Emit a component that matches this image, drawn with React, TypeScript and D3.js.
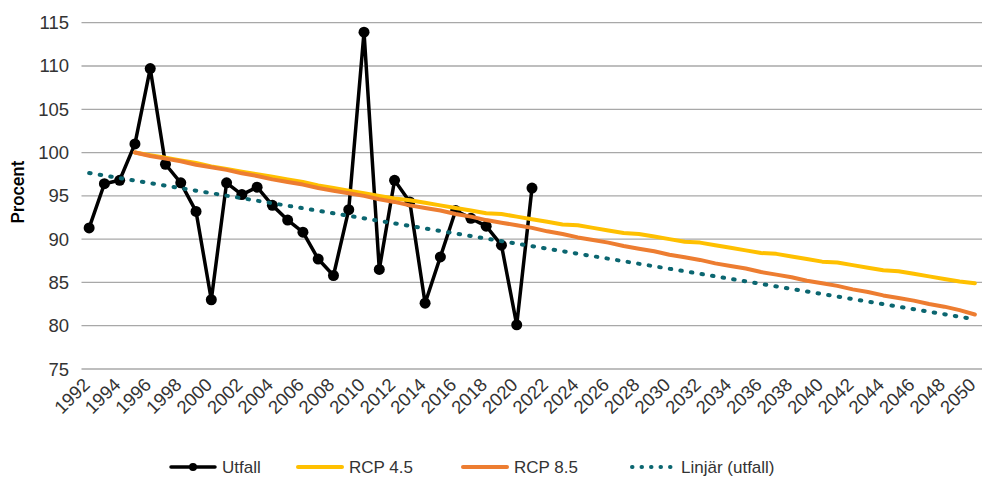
import React from "react";
import * as d3 from "d3";

const years: number[] = d3.range(1992, 2051);
const utfallYears: number[] = d3.range(1992, 2022);
const utfall: number[] = [
  91.3, 96.4, 96.8, 101.0, 109.7, 98.65, 96.5, 93.2, 83.0, 96.5,
  95.15, 96.0, 93.9, 92.2, 90.8, 87.7, 85.8, 93.4, 113.9, 86.5,
  96.8, 94.3, 82.6, 87.95, 93.3, 92.4, 91.5, 89.3, 80.1, 95.9,
];
const rcpYears: number[] = d3.range(1995, 2051);
const rcp45: number[] = [
  100.0, 99.7, 99.4, 99.1, 98.8, 98.4, 98.1, 97.8, 97.5, 97.2,
  96.9, 96.6, 96.2, 95.9, 95.6, 95.3, 95.0, 94.7, 94.5, 94.2,
  93.9, 93.6, 93.3, 93.0, 92.9, 92.6, 92.3, 92.0, 91.7, 91.6,
  91.3, 91.0, 90.7, 90.6, 90.3, 90.0, 89.7, 89.6, 89.3, 89.0,
  88.7, 88.4, 88.3, 88.0, 87.7, 87.4, 87.3, 87.0, 86.7, 86.4,
  86.3, 86.0, 85.7, 85.4, 85.1, 84.9,
];
const rcp85: number[] = [
  100.0, 99.6, 99.3, 99.0, 98.6, 98.3, 98.0, 97.6, 97.3, 96.9,
  96.6, 96.3, 95.9, 95.6, 95.3, 95.0, 94.6, 94.3, 93.9, 93.6,
  93.3, 92.9, 92.6, 92.2, 91.9, 91.6, 91.3, 90.9, 90.6, 90.2,
  89.9, 89.6, 89.2, 88.9, 88.6, 88.2, 87.9, 87.6, 87.2, 86.9,
  86.6, 86.2, 85.9, 85.6, 85.2, 84.9, 84.6, 84.2, 83.9, 83.5,
  83.2, 82.9, 82.5, 82.2, 81.8, 81.3,
];
const yTicks: number[] = [75, 80, 85, 90, 95, 100, 105, 110, 115];
const xTickLabels: number[] = d3.range(1992, 2051, 2);
const legendLabels: string[] = ["Utfall", "RCP 4.5", "RCP 8.5", "Linjär (utfall)"];

const COLORS = {
  utfall: "#000000",
  rcp45: "#FFC000",
  rcp85: "#ED7D31",
  trend: "#0B6670",
  grid: "#A8A8A8",
  text: "#333333",
};

const FONT = "'Liberation Sans', Arial, sans-serif";

export default function App() {
  const W = 982;
  const H = 481;
  const plotLeft = 81.5;
  const plotRight = 982.5;
  const x = d3.scaleBand<number>().domain(years).range([plotLeft, plotRight]);
  const cx = (yr: number) => (x(yr) as number) + x.bandwidth() / 2;
  const y = d3.scaleLinear().domain([75, 115]).range([369, 22.7]);

  // linear trend (least squares) of utfall
  const xs = utfallYears.map((d) => d - 1992);
  const mx = d3.mean(xs) as number;
  const my = d3.mean(utfall) as number;
  const sxy = d3.sum(xs, (v, i) => (v - mx) * (utfall[i] - my));
  const sxx = d3.sum(xs, (v) => (v - mx) * (v - mx));
  const slope = sxy / sxx;
  const intercept = my - slope * mx;
  const trendPts: [number, number][] = [
    [1992, intercept],
    [2050, intercept + slope * (2050 - 1992)],
  ];

  const line = d3
    .line<[number, number]>()
    .x((d) => cx(d[0]))
    .y((d) => y(d[1]));

  const utfallPts: [number, number][] = utfallYears.map((yr, i) => [yr, utfall[i]]);
  const r45Pts: [number, number][] = rcpYears.map((yr, i) => [yr, rcp45[i]]);
  const r85Pts: [number, number][] = rcpYears.map((yr, i) => [yr, rcp85[i]]);

  const legendY = 467;
  const legendItems = [
    { x: 171, key: "utfall" },
    { x: 298, key: "rcp45" },
    { x: 463, key: "rcp85" },
    { x: 630, key: "trend" },
  ];

  return (
    <svg
      width={W}
      height={H}
      style={{ position: "absolute", left: 0, top: 0, background: "#fff" }}
      fontFamily={FONT}
    >
      {/* gridlines */}
      {yTicks.map((t) => (
        <line
          key={t}
          x1={plotLeft}
          x2={W}
          y1={y(t)}
          y2={y(t)}
          stroke={COLORS.grid}
          strokeWidth={1.3}
        />
      ))}
      {/* y tick labels */}
      {yTicks.map((t) => (
        <text
          key={t}
          x={69}
          y={y(t)}
          textAnchor="end"
          dominantBaseline="central"
          fontSize={18.5}
          fill={COLORS.text}
        >
          {t}
        </text>
      ))}
      {/* y axis title */}
      <text
        transform={`translate(24,192) rotate(-90)`}
        textAnchor="middle"
        fontSize={18}
        fontFamily="Roboto, 'Liberation Sans', sans-serif"
        fontWeight={500}
        fill="#000"
      >
        Procent
      </text>
      {/* x tick labels */}
      {xTickLabels.map((yr) => (
        <text
          key={yr}
          transform={`translate(${cx(yr) + 2},${386}) rotate(-45)`}
          textAnchor="end"
          fontSize={18.5}
          fill={COLORS.text}
        >
          {yr}
        </text>
      ))}
      {/* utfall */}
      <path
        d={line(utfallPts) as string}
        fill="none"
        stroke={COLORS.utfall}
        strokeWidth={3.5}
        strokeLinejoin="round"
      />
      {utfallPts.map((p) => (
        <circle key={p[0]} cx={cx(p[0])} cy={y(p[1])} r={5.5} fill={COLORS.utfall} />
      ))}
      {/* RCP 4.5 */}
      <path
        d={line(r45Pts) as string}
        fill="none"
        stroke={COLORS.rcp45}
        strokeWidth={4}
        strokeLinejoin="round"
        strokeLinecap="round"
      />
      {/* RCP 8.5 */}
      <path
        d={line(r85Pts) as string}
        fill="none"
        stroke={COLORS.rcp85}
        strokeWidth={4}
        strokeLinejoin="round"
        strokeLinecap="round"
      />
      {/* trend */}
      <path
        d={line(trendPts) as string}
        fill="none"
        stroke={COLORS.trend}
        strokeWidth={4}
        strokeLinecap="round"
        strokeDasharray="1.5 9.2"
      />
      {/* legend */}
      {legendItems.map((it, i) => {
        const color = (COLORS as any)[it.key];
        return (
          <g key={it.key}>
            {it.key === "trend" ? (
              <line
                x1={it.x + 2}
                x2={it.x + 42}
                y1={legendY}
                y2={legendY}
                stroke={color}
                strokeWidth={4}
                strokeLinecap="round"
                strokeDasharray="0.5 9"
              />
            ) : (
              <line
                x1={it.x}
                x2={it.x + 44}
                y1={legendY}
                y2={legendY}
                stroke={color}
                strokeWidth={it.key === "utfall" ? 3.5 : 4}
                strokeLinecap="round"
              />
            )}
            {it.key === "utfall" && <circle cx={it.x + 22} cy={legendY} r={4} fill={color} />}
            <text
              x={it.x + 51}
              y={legendY}
              dominantBaseline="central"
              fontSize={17}
              fill={COLORS.text}
            >
              {legendLabels[i]}
            </text>
          </g>
        );
      })}
    </svg>
  );
}
